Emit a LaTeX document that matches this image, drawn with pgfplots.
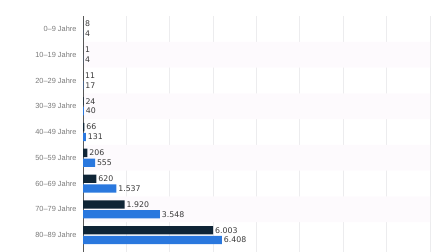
\documentclass[border=0pt]{standalone}
\usepackage{pgfplots}
\pgfplotsset{compat=1.18}
\usepackage{pgfplotstable}
\usepackage{fontspec}
\setmainfont{Liberation Sans}
\newfontfamily\valfont{DejaVu Sans}
\definecolor{darkbar}{HTML}{0F2536}
\definecolor{bluebar}{HTML}{2A78DE}
\definecolor{band}{HTML}{FDFAFD}
\definecolor{gridc}{HTML}{ECECEE}
\definecolor{ticklab}{HTML}{7A7A7A}
\definecolor{vallab}{HTML}{3A3A3A}
\pgfplotstableread{
y v
-0.19 8
0.81 1
1.81 11
2.81 24
3.81 66
4.81 206
5.81 620
6.81 1920
7.81 6003
}\darkdata
\pgfplotstableread{
y v
0.19 4
1.19 4
2.19 17
3.19 40
4.19 131
5.19 555
6.19 1537
7.19 3548
8.19 6408
}\bluedata
\pgfplotstableread{
y v
1 16000
3 16000
5 16000
7 16000
}\banddata
\begin{document}
\begin{tikzpicture}
\path[use as bounding box] (0,0) rectangle (448pt,252pt);
\begin{axis}[
  scale only axis,
  width=347pt, height=236pt,
  at={(83pt,0pt)}, anchor=south west,
  xmin=0, xmax=16000,
  ymin=-0.5, ymax=8.655,
  y dir=reverse,
  axis line style={draw=none},
  xtick={0,2000,...,16000},
  scaled x ticks=false,
  xticklabel=\empty,
  major tick length=0pt,
  xmajorgrids,
  grid style={gridc, line width=0.8pt},
  ytick={0,...,8},
  yticklabels={0–9 Jahre,10–19 Jahre,20–29 Jahre,30–39 Jahre,40–49 Jahre,50–59 Jahre,60–69 Jahre,70–79 Jahre,80–89 Jahre},
  yticklabel style={font=\fontsize{7.4}{8}\selectfont, text=ticklab, xshift=-3pt},
  /pgf/number format/assume math mode=true,
  /pgf/number format/1000 sep={.},
  clip=false,
]
\addplot[xbar, bar shift=0pt, bar width=25.78pt, fill=band, draw=none, forget plot] table[x=v,y=y]{\banddata};
\draw[line width=0.9pt, draw=black!65] (axis cs:0,-0.5) -- (axis cs:0,8.655);
\addplot[xbar, bar shift=0pt, bar width=8.3pt, fill=darkbar, draw=none,
  nodes near coords, nodes near coords align={horizontal},
  every node near coord/.append style={font=\valfont\fontsize{7.8}{8}\selectfont, text=vallab, anchor=west, inner sep=1.8pt}]
  table[x=v,y=y]{\darkdata};
\addplot[xbar, bar shift=0pt, bar width=8.3pt, fill=bluebar, draw=none,
  nodes near coords, nodes near coords align={horizontal},
  every node near coord/.append style={font=\valfont\fontsize{7.8}{8}\selectfont, text=vallab, anchor=west, inner sep=1.8pt}]
  table[x=v,y=y]{\bluedata};
\end{axis}
\end{tikzpicture}
\end{document}
